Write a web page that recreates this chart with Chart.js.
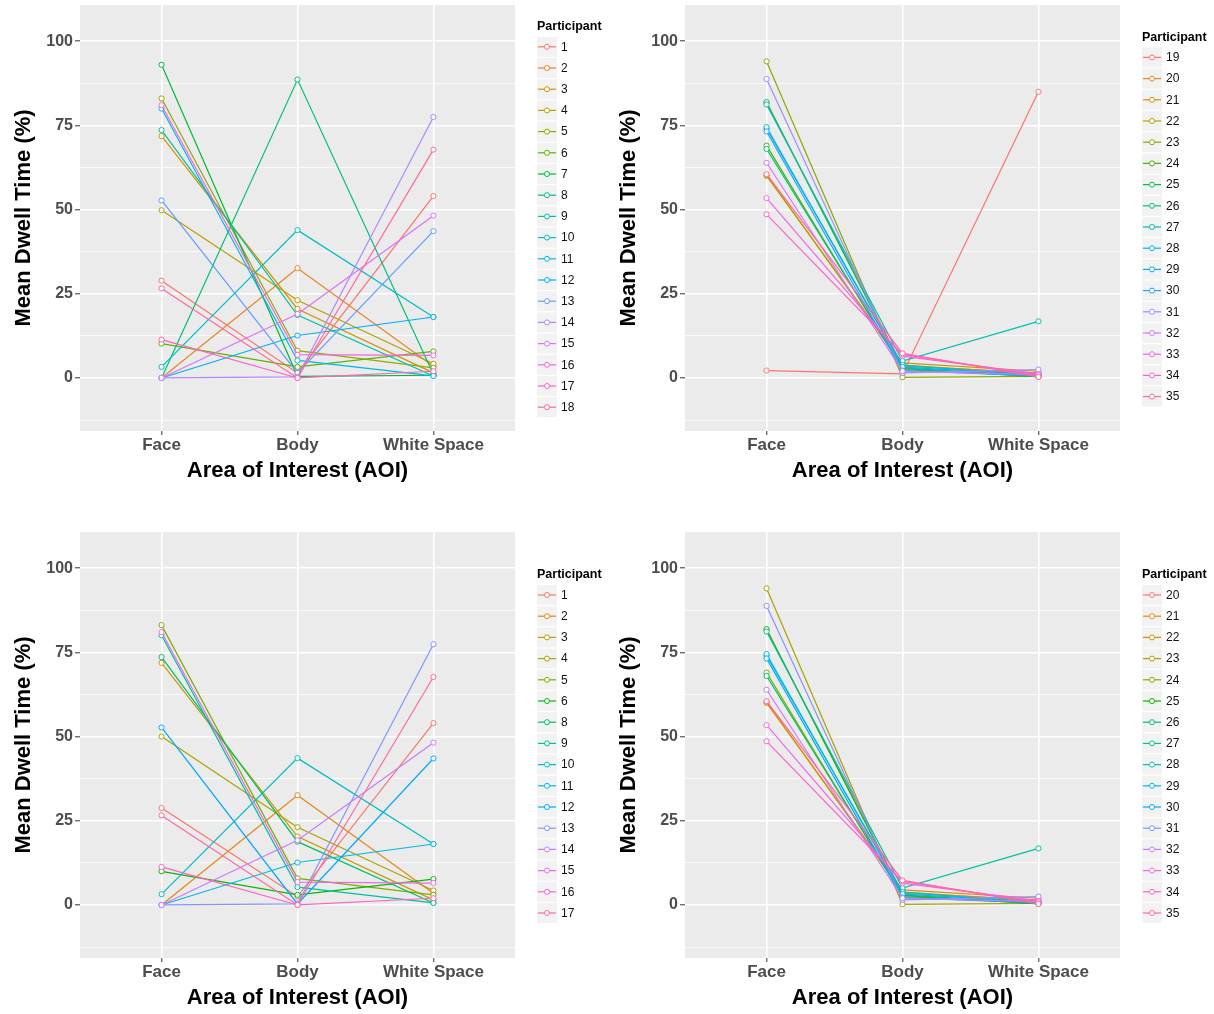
<!DOCTYPE html>
<html>
<head>
<meta charset="utf-8">
<script src="https://cdn.jsdelivr.net/npm/chart.js@4.4.1/dist/chart.umd.min.js"></script>
<style>
  html, body { margin: 0; background: #fff; overflow: hidden; }
  canvas { position: absolute; }
</style>
</head>
<body>
<canvas id="topLeft" width="609" height="490" style="left:0;top:0"></canvas>
<canvas id="topRight" width="609" height="490" style="left:605px;top:0"></canvas>
<canvas id="bottomLeft" width="609" height="490" style="left:0;top:527px"></canvas>
<canvas id="bottomRight" width="609" height="490" style="left:605px;top:527px"></canvas>
<script>
// areas of interest on the x axis
const aoi = ['Face', 'Body', 'White Space'];
const yBreaks = [-12.5, 0, 12.5, 25, 37.5, 50, 62.5, 75, 87.5, 100];

// top left: participants 1-18
const idsA = [1, 2, 3, 4, 5, 6, 7, 8, 9, 10, 11, 12, 13, 14, 15, 16, 17, 18];
const faceA = [28.9, 0, 71.8, 49.8, 83, 10.2, 93, 0, 73.6, 3.3, 80, 0, 52.7, 0, 0, 81, 11.4, 26.6];
const bodyA = [1.5, 32.6, 20.5, 23.1, 8.1, 3.3, 0.5, 88.6, 18.7, 43.9, 5.2, 12.6, 1.5, 0.3, 19, 6.9, 0, 0];
const spaceA = [54, 3.5, 1.5, 4.2, 3, 7.9, 0.8, 1, 0.6, 18.1, 0.6, 18.1, 43.6, 77.5, 48.2, 6.7, 2, 67.8];

// top right: participants 19-35
const idsB = [19, 20, 21, 22, 23, 24, 25, 26, 27, 28, 29, 30, 31, 32, 33, 34, 35];
const faceB = [2.2, 81.7, 60, 60.3, 94, 69, 81.9, 68, 81.2, 74, 74.5, 73.2, 88.8, 63.9, 53.4, 48.6, 60.5];
const bodyB = [1.2, 3.5, 4.5, 3.8, 0.2, 2.5, 2.8, 3, 5, 3.8, 3.2, 2.2, 1.5, 2, 6.5, 7, 7.3];
const spaceB = [85, 1.5, 2, 1.2, 0.5, 0.8, 0.3, 0.5, 16.8, 0.7, 1, 0.6, 2.5, 1, 1.2, 0.8, 0.3];

// bottom left: participants 1-17 without 7
const idsC = [1, 2, 3, 4, 5, 6, 8, 9, 10, 11, 12, 13, 14, 15, 16, 17];
const faceC = [28.8, 0, 71.9, 50, 83.1, 10, 73.6, 80.1, 3.2, 0, 52.7, 0, 0, 81, 11.3, 26.6];
const bodyC = [2.5, 32.6, 20.3, 23.1, 7.9, 3, 18.8, 5.3, 43.6, 12.6, 0.3, 0.3, 19.2, 6.8, 0, 0];
const spaceC = [54, 3.5, 1.5, 4.3, 3, 7.7, 0.6, 0.6, 18.1, 18.1, 43.5, 77.4, 48.2, 6.5, 2, 67.7];

// bottom right: participants 20-35
const idsD = [20, 21, 22, 23, 24, 25, 26, 27, 28, 29, 30, 31, 32, 33, 34, 35];
const faceD = [81.7, 60, 60.3, 94, 69, 81.9, 68, 81.2, 74, 74.5, 73.2, 88.8, 63.9, 53.4, 48.6, 60.5];
const bodyD = [3.5, 4.5, 3.8, 0.2, 2.5, 2.8, 3, 5, 3.8, 3.2, 2.2, 1.5, 2, 6.5, 7, 7.3];
const spaceD = [1.5, 2, 1.2, 0.5, 0.8, 0.3, 0.5, 16.8, 0.7, 1, 0.6, 2.5, 1, 1.2, 0.8, 0.3];

const font = '"Liberation Sans", Arial, sans-serif';

// ggplot's default hue palette (hcl, c = 100, l = 65)
function hcl(h, c, l) {
    const hr = h * Math.PI / 180;
    const u = c * Math.cos(hr), v = c * Math.sin(hr);
    const Xn = 95.047, Yn = 100, Zn = 108.883;
    const un = 4 * Xn / (Xn + 15 * Yn + 3 * Zn);
    const vn = 9 * Yn / (Xn + 15 * Yn + 3 * Zn);
    const Y = Yn * (l > 8 ? Math.pow((l + 16) / 116, 3) : l / 903.3);
    const up = u / (13 * l) + un;
    const vp = v / (13 * l) + vn;
    const X = Y * 9 * up / (4 * vp);
    const Z = Y * (12 - 3 * up - 20 * vp) / (4 * vp);
    const x = X / 100, y = Y / 100, z = Z / 100;
    const lin = [
        3.240479 * x - 1.537150 * y - 0.498535 * z,
        -0.969256 * x + 1.875992 * y + 0.041556 * z,
        0.055648 * x - 0.204043 * y + 1.057311 * z
    ];
    const rgb = lin.map(c => {
        const g = c <= 0.0031308 ? 12.92 * c : 1.055 * Math.pow(c, 1 / 2.4) - 0.055;
        return Math.round(Math.min(1, Math.max(0, g)) * 255);
    });
    return `rgb(${rgb[0]}, ${rgb[1]}, ${rgb[2]})`;
}

function huePalette(n) {
    let cols = [];
    for (let i = 0; i < n; i++) {
        cols.push(hcl(15 + 360 * i / n, 100, 65));
    }
    return cols;
}

const panelBackground = {
    id: 'panelBackground',
    beforeDraw(chart) {
        const {ctx, chartArea} = chart;
        ctx.save();
        ctx.fillStyle = '#EBEBEB';
        ctx.fillRect(chartArea.left, chartArea.top, chartArea.right - chartArea.left, chartArea.bottom - chartArea.top);
        ctx.restore();
    }
};

// ggplot style legend: grey keys with line and open point
const participantLegend = {
    id: 'participantLegend',
    afterDraw(chart) {
        const {ctx, chartArea} = chart;
        const sets = chart.data.datasets;
        const step = 21.2;
        const x0 = chartArea.right + 22;
        let y = (chartArea.top + chartArea.bottom) / 2 + 9 - (sets.length - 1) * step / 2;

        ctx.save();
        ctx.textBaseline = 'middle';
        ctx.fillStyle = '#000';
        ctx.font = 'bold 12.5px ' + font;
        ctx.fillText('Participant', x0, y - 20);
        ctx.font = '12px ' + font;
        sets.forEach(ds => {
            ctx.fillStyle = '#F2F2F2';
            ctx.fillRect(x0, y - 10, 20, 20);
            ctx.strokeStyle = ds.borderColor;
            ctx.lineWidth = 1.2;
            ctx.beginPath();
            ctx.moveTo(x0 + 1, y);
            ctx.lineTo(x0 + 19, y);
            ctx.stroke();
            ctx.beginPath();
            ctx.arc(x0 + 10, y, 2.5, 0, Math.PI * 2);
            ctx.fillStyle = '#fff';
            ctx.fill();
            ctx.lineWidth = 1;
            ctx.stroke();
            ctx.fillStyle = '#111';
            ctx.fillText(ds.label, x0 + 24, y + 0.5);
            y += step;
        });
        ctx.restore();
    }
};

function renderPanel(id, ids, face, body, space) {
    const colours = huePalette(ids.length);
    const datasets = ids.map((p, i) => ({
        label: String(p),
        data: [face[i], body[i], space[i]].map((v, k) => ({x: k + 1, y: v})),
        borderColor: colours[i],
        backgroundColor: '#fff',
        borderWidth: 1.2,
        pointRadius: 2.6,
        pointBorderWidth: 1,
        pointBackgroundColor: '#fff',
        pointBorderColor: colours[i],
        tension: 0,
        order: -i
    }));

    new Chart(document.getElementById(id), {
        type: 'line',
        data: {datasets: datasets},
        options: {
            responsive: false,
            animation: false,
            layout: {padding: {top: 3, right: 94, left: 0, bottom: 0}},
            plugins: {
                legend: {display: false},
                tooltip: {enabled: false}
            },
            scales: {
                x: {
                    type: 'linear',
                    min: 0.4,
                    max: 3.6,
                    bounds: 'data',
                    afterBuildTicks: scale => { scale.ticks = aoi.map((a, k) => ({value: k + 1})); },
                    afterFit: scale => {
                        scale.height = 59;
                        scale.paddingLeft = 0;
                        scale.paddingRight = 0;
                    },
                    border: {display: false},
                    grid: {
                        color: '#fff',
                        lineWidth: 1.6,
                        tickColor: '#333',
                        tickLength: 4,
                        tickWidth: 1
                    },
                    ticks: {
                        callback: v => aoi[v - 1],
                        color: '#4D4D4D',
                        padding: 0,
                        maxRotation: 0,
                        font: {family: font, size: 17, weight: 'bold'}
                    },
                    title: {
                        display: true,
                        text: 'Area of Interest (AOI)',
                        color: '#000',
                        padding: {top: 0, bottom: 6},
                        font: {family: font, size: 22, weight: 'bold'}
                    }
                },
                y: {
                    type: 'linear',
                    min: -15.75,
                    max: 110.75,
                    bounds: 'data',
                    afterBuildTicks: scale => { scale.ticks = yBreaks.map(v => ({value: v})); },
                    afterFit: scale => {
                        scale.width = 80;
                        scale.paddingTop = 0;
                        scale.paddingBottom = 0;
                    },
                    border: {display: false},
                    grid: {
                        color: '#fff',
                        lineWidth: ctx => ctx.tick && ctx.tick.value % 25 === 0 ? 1.6 : 0.8,
                        tickColor: ctx => ctx.tick && ctx.tick.value % 25 === 0 ? '#333' : 'rgba(0,0,0,0)',
                        tickLength: 5,
                        tickWidth: 1
                    },
                    ticks: {
                        callback: v => v % 25 === 0 ? String(v) : '',
                        color: '#4D4D4D',
                        padding: 2,
                        font: {family: font, size: 16, weight: 'bold'}
                    },
                    title: {
                        display: true,
                        text: 'Mean Dwell Time (%)',
                        color: '#000',
                        padding: {top: 11, bottom: 0},
                        font: {family: font, size: 22, weight: 'bold'}
                    }
                }
            }
        },
        plugins: [panelBackground, participantLegend]
    });
}

renderPanel('topLeft', idsA, faceA, bodyA, spaceA);
renderPanel('topRight', idsB, faceB, bodyB, spaceB);
renderPanel('bottomLeft', idsC, faceC, bodyC, spaceC);
renderPanel('bottomRight', idsD, faceD, bodyD, spaceD);
</script>
</body>
</html>
